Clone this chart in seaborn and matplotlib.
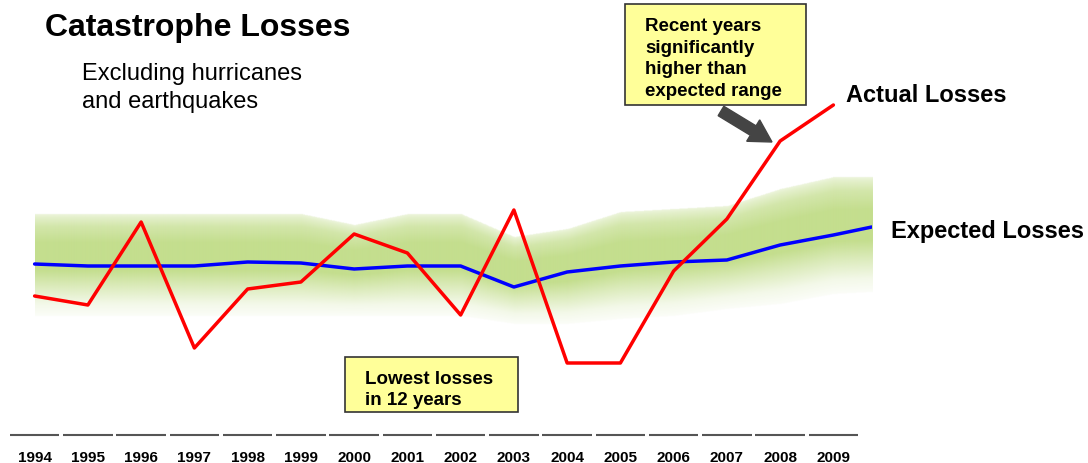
import numpy as np
import pandas as pd
import matplotlib
matplotlib.use("Agg")
import matplotlib.pyplot as plt
import matplotlib.patches as mpatches
from matplotlib.transforms import IdentityTransform
import seaborn as sns

# ---- data (loss index, arbitrary units) ----
years = [1994, 1995, 1996, 1997, 1998, 1999, 2000, 2001,
         2002, 2003, 2004, 2005, 2006, 2007, 2008, 2009]
actual = [139, 130, 213, 87, 146, 153, 201, 182,
          120, 225, 72, 72, 164, 216, 294, 330]
expected = [171, 169, 169, 169, 173, 172, 166, 169,
            169, 148, 163, 169, 173, 175, 190, 200]
range_high = [221, 221, 221, 221, 221, 221, 210, 221,
              221, 198, 206, 223, 226, 229, 246, 258]
range_low = [119, 119, 119, 119, 119, 119, 119, 119,
             119, 111, 111, 116, 119, 126, 131, 141]
# expected curve and range carried on to the right edge of the plot
tail_x = 2009.72
expected_tail = 208
range_high_tail = 258
range_low_tail = 143

year_labels = [str(y) for y in years]

sns.set_style("white")
plt.rcParams["font.family"] = ["Liberation Sans", "DejaVu Sans"]
plt.rcParams["text.color"] = "black"
plt.rcParams["xtick.color"] = "black"

W, H = 1088, 464
fig = plt.figure(figsize=(W / 100, H / 100), dpi=100)
ax = fig.add_axes([8 / W, 28 / H, 864 / W, 436 / H])
ax.set_xlim(1993.5, 2009.725)
ax.set_ylim(0, 436)

# ---- expected range: soft green band with vertical gradient ----
bx = years + [tail_x]
hi = range_high + [range_high_tail]
lo = range_low + [range_low_tail]
gx = np.linspace(years[0], tail_x, 900)
gy = np.linspace(0, 436, 872)
HI = np.interp(gx, bx, hi)[None, :]
LO = np.interp(gx, bx, lo)[None, :]
t = (gy[:, None] - LO) / (HI - LO)
alpha = np.interp(t, [0.0, 0.12, 0.3, 0.45, 0.72, 0.88, 0.97, 1.0],
                  [0.06, 0.2, 0.62, 1.0, 1.0, 0.75, 0.45, 0.3])
alpha[(t < 0) | (t > 1)] = 0
green = np.array([196, 222, 142]) / 255
img = np.zeros(alpha.shape + (4,))
img[..., :3] = green
img[..., 3] = alpha
ax.imshow(img, extent=[years[0], tail_x, 0, 436], origin="lower",
          aspect="auto", interpolation="bilinear", zorder=1)

# ---- lines ----
df_exp = pd.DataFrame({"year": years + [tail_x], "loss": expected + [expected_tail],
                       "series": "Expected Losses"})
df_act = pd.DataFrame({"year": years, "loss": actual, "series": "Actual Losses"})
df = pd.concat([df_exp, df_act], ignore_index=True)
sns.lineplot(data=df, x="year", y="loss", hue="series",
             palette={"Expected Losses": "#0000ff", "Actual Losses": "#ff0000"},
             hue_order=["Expected Losses", "Actual Losses"],
             linewidth=2.5, legend=False, ax=ax, zorder=3, sort=False)

# ---- axis: segmented baseline and bold year labels ----
for s in ax.spines.values():
    s.set_visible(False)
ax.set_xlabel("")
ax.set_ylabel("")
ax.set_yticks([])
ax.set_xticks(years)
ax.set_xticklabels(year_labels, fontsize=11, fontweight="bold")
ax.tick_params(axis="x", length=0, pad=11)
base = ax.get_xaxis_transform()
for y in years:
    ax.plot([y - 0.465, y + 0.465], [0, 0], transform=base, color="#555555",
            lw=1.5, clip_on=False, solid_capstyle="butt")

# ---- titles and labels (placed in figure pixels, measured from the top) ----
def fx(px):
    return px / W

def fy(py):
    return 1 - py / H

fig.text(fx(45), fy(28), "Catastrophe Losses", fontsize=23, fontweight="bold",
         va="center", ha="left")
fig.text(fx(82), fy(88), "Excluding hurricanes\nand earthquakes", fontsize=17,
         va="center", ha="left", linespacing=1.3)
fig.text(fx(846), fy(95), "Actual Losses", fontsize=17, fontweight="bold",
         va="center", ha="left")
fig.text(fx(891), fy(232), "Expected Losses", fontsize=17, fontweight="bold",
         va="center", ha="left")

# yellow call-out boxes
def callout(x0, y0, x1, y1, tx, ty, text):
    rect = mpatches.Rectangle((x0, H - y1), x1 - x0, y1 - y0,
                              transform=IdentityTransform(), fc="#ffff99",
                              ec="#333333", lw=1.2, zorder=5)
    fig.patches.append(rect)
    fig.text(fx(tx), fy(ty), text, fontsize=13.5, fontweight="bold",
             va="center", ha="left", linespacing=1.38, zorder=6)

callout(625, 5, 806, 106, 645, 59,
        "Recent years\nsignificantly\nhigher than\nexpected range")
callout(345, 358, 518, 413, 365, 390, "Lowest losses\nin 12 years")

arrow = mpatches.FancyArrow(721, H - 112, 772 - 721, (H - 143) - (H - 112),
                            width=11, head_width=25, head_length=22,
                            length_includes_head=True, fc="#444444",
                            ec="#444444", transform=IdentityTransform())
fig.patches.append(arrow)

fig.savefig("out.png", dpi=100)
